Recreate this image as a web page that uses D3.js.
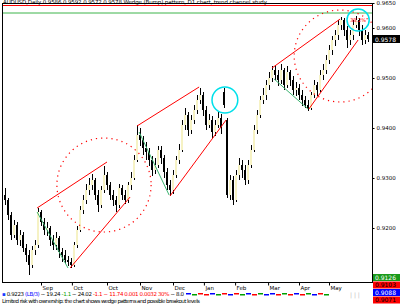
<!DOCTYPE html>
<html>
<head>
<meta charset="utf-8">
<script src="https://cdn.jsdelivr.net/npm/d3@7"></script>
<style>
  body { margin: 0; background: #fff; }
  svg { display: block; font-family: "DejaVu Sans", sans-serif; }
</style>
</head>
<body>
<div id="chart"></div>
<script>
// daily candles
const open = [
  0.9266, 0.9256, 0.9226, 0.9186, 0.9206, 0.9176, 0.9186, 0.9160, 0.9146, 0.9126,
  0.9156, 0.9166, 0.9232, 0.9212, 0.9196, 0.9200, 0.9176, 0.9166, 0.9180, 0.9152,
  0.9146, 0.9136, 0.9132, 0.9126, 0.9166, 0.9196, 0.9236, 0.9256, 0.9276, 0.9286,
  0.9296, 0.9266, 0.9246, 0.9276, 0.9306, 0.9286, 0.9266, 0.9256, 0.9246, 0.9280,
  0.9266, 0.9256, 0.9286, 0.9300, 0.9336, 0.9386, 0.9376, 0.9360, 0.9352, 0.9336,
  0.9316, 0.9326, 0.9356, 0.9340, 0.9312, 0.9286, 0.9276, 0.9306, 0.9336, 0.9356,
  0.9406, 0.9426, 0.9396, 0.9416, 0.9436, 0.9456, 0.9466, 0.9436, 0.9406, 0.9416,
  0.9392, 0.9406, 0.9420, 0.9472, 0.9416, 0.9266, 0.9296, 0.9256, 0.9306, 0.9326,
  0.9316, 0.9296, 0.9326, 0.9356, 0.9396, 0.9426, 0.9456, 0.9466, 0.9486, 0.9500,
  0.9516, 0.9506, 0.9496, 0.9516, 0.9486, 0.9512, 0.9496, 0.9476, 0.9480, 0.9466,
  0.9456, 0.9446, 0.9440, 0.9466, 0.9486, 0.9476, 0.9506, 0.9516, 0.9536, 0.9556,
  0.9576, 0.9586, 0.9606, 0.9616, 0.9596, 0.9576, 0.9586, 0.9606, 0.9616, 0.9596,
  0.9576, 0.9586
];
const high = [
  0.9280, 0.9260, 0.9232, 0.9216, 0.9212, 0.9196, 0.9192, 0.9168, 0.9156, 0.9164,
  0.9176, 0.9240, 0.9236, 0.9220, 0.9212, 0.9204, 0.9186, 0.9192, 0.9184, 0.9160,
  0.9156, 0.9144, 0.9140, 0.9172, 0.9204, 0.9244, 0.9266, 0.9288, 0.9300, 0.9308,
  0.9300, 0.9276, 0.9284, 0.9324, 0.9312, 0.9292, 0.9276, 0.9264, 0.9288, 0.9286,
  0.9276, 0.9292, 0.9312, 0.9346, 0.9406, 0.9400, 0.9384, 0.9372, 0.9360, 0.9344,
  0.9340, 0.9364, 0.9364, 0.9346, 0.9320, 0.9296, 0.9316, 0.9344, 0.9368, 0.9416,
  0.9440, 0.9432, 0.9426, 0.9446, 0.9466, 0.9480, 0.9472, 0.9444, 0.9428, 0.9424,
  0.9416, 0.9432, 0.9428, 0.9480, 0.9420, 0.9306, 0.9304, 0.9316, 0.9340, 0.9336,
  0.9326, 0.9336, 0.9366, 0.9406, 0.9436, 0.9464, 0.9480, 0.9496, 0.9512, 0.9524,
  0.9524, 0.9516, 0.9528, 0.9520, 0.9524, 0.9516, 0.9504, 0.9492, 0.9488, 0.9476,
  0.9464, 0.9456, 0.9472, 0.9496, 0.9492, 0.9516, 0.9528, 0.9546, 0.9566, 0.9584,
  0.9596, 0.9616, 0.9622, 0.9620, 0.9604, 0.9596, 0.9616, 0.9624, 0.9620, 0.9606,
  0.9596, 0.9592
];
const low = [
  0.9246, 0.9216, 0.9176, 0.9180, 0.9166, 0.9164, 0.9152, 0.9132, 0.9106, 0.9120,
  0.9146, 0.9160, 0.9204, 0.9186, 0.9184, 0.9164, 0.9156, 0.9156, 0.9140, 0.9132,
  0.9128, 0.9124, 0.9120, 0.9122, 0.9160, 0.9192, 0.9228, 0.9248, 0.9266, 0.9276,
  0.9256, 0.9232, 0.9240, 0.9270, 0.9276, 0.9256, 0.9244, 0.9232, 0.9240, 0.9256,
  0.9248, 0.9250, 0.9276, 0.9296, 0.9332, 0.9364, 0.9346, 0.9336, 0.9324, 0.9304,
  0.9308, 0.9320, 0.9328, 0.9300, 0.9276, 0.9264, 0.9268, 0.9300, 0.9328, 0.9352,
  0.9396, 0.9384, 0.9388, 0.9408, 0.9428, 0.9448, 0.9424, 0.9396, 0.9400, 0.9380,
  0.9384, 0.9400, 0.9388, 0.9440, 0.9260, 0.9256, 0.9246, 0.9252, 0.9296, 0.9300,
  0.9286, 0.9288, 0.9320, 0.9352, 0.9388, 0.9420, 0.9448, 0.9456, 0.9476, 0.9492,
  0.9496, 0.9484, 0.9488, 0.9476, 0.9480, 0.9484, 0.9466, 0.9464, 0.9456, 0.9444,
  0.9440, 0.9434, 0.9436, 0.9460, 0.9464, 0.9472, 0.9496, 0.9508, 0.9528, 0.9546,
  0.9564, 0.9576, 0.9596, 0.9584, 0.9560, 0.9566, 0.9576, 0.9600, 0.9584, 0.9566,
  0.9568, 0.9572
];
const close = [
  0.9256, 0.9226, 0.9186, 0.9206, 0.9176, 0.9186, 0.9160, 0.9146, 0.9126, 0.9156,
  0.9166, 0.9232, 0.9212, 0.9196, 0.9200, 0.9176, 0.9166, 0.9180, 0.9152, 0.9146,
  0.9136, 0.9132, 0.9126, 0.9166, 0.9196, 0.9236, 0.9256, 0.9276, 0.9286, 0.9296,
  0.9266, 0.9246, 0.9276, 0.9306, 0.9286, 0.9266, 0.9256, 0.9246, 0.9280, 0.9266,
  0.9256, 0.9286, 0.9300, 0.9336, 0.9386, 0.9376, 0.9360, 0.9352, 0.9336, 0.9316,
  0.9326, 0.9356, 0.9340, 0.9312, 0.9286, 0.9276, 0.9306, 0.9336, 0.9356, 0.9406,
  0.9426, 0.9396, 0.9416, 0.9436, 0.9456, 0.9466, 0.9436, 0.9406, 0.9416, 0.9392,
  0.9406, 0.9420, 0.9400, 0.9446, 0.9266, 0.9296, 0.9256, 0.9306, 0.9326, 0.9316,
  0.9296, 0.9326, 0.9356, 0.9396, 0.9426, 0.9456, 0.9466, 0.9486, 0.9500, 0.9516,
  0.9506, 0.9496, 0.9516, 0.9486, 0.9512, 0.9496, 0.9476, 0.9480, 0.9466, 0.9456,
  0.9446, 0.9440, 0.9466, 0.9486, 0.9476, 0.9506, 0.9516, 0.9536, 0.9556, 0.9576,
  0.9586, 0.9606, 0.9616, 0.9596, 0.9576, 0.9586, 0.9606, 0.9616, 0.9596, 0.9576,
  0.9586, 0.9578
];

// drawn objects: [bar1, price1, bar2, price2]
const redLines = [
  [10.7, 0.9240, 34, 0.9332], [21.7, 0.9120, 41.7, 0.9262],
  [44, 0.9404, 64.7, 0.9482], [55, 0.9264, 73.7, 0.9416],
  [89, 0.9520, 111.7, 0.9618], [101.3, 0.9438, 117.7, 0.9576]
];
const greenLines = [
  [10.7, 0.9232, 21, 0.9120],
  [44.7, 0.9392, 54.7, 0.9266],
  [89.7, 0.9498, 101, 0.9438]
];
// [bar, price, radius in bars, radius in price]
const dotCircles = [[33, 0.9286, 15.7, 0.0094], [111.7, 0.9544, 15.3, 0.0092]];
const cyanCircles = [[73.3, 0.9456, 4.3, 0.0026], [117.7, 0.9616, 3.7, 0.0022]];
const levelRed = 0.9645;
const levelGreen = 0.9630;

const priceTicks = [0.92, 0.93, 0.94, 0.95, 0.96, 0.965];
const timeTicks = [12, 22.3, 34, 45, 56, 66.3, 76.7, 87.7, 98, 108];
const timeLabels = ['Sep', 'Oct', 'Oct', 'Nov', 'Dec', 'Jan', 'Feb', 'Mar', 'Apr', 'May'];

const boxLabels = ['0.9126', '0.9103', '0.9088', '0.9071'];
const boxColors = ['#1a9a1a', '#ff0000', '#0000ff', '#ff0000'];
const boxText = ['#fff', '#000', '#fff', '#000'];

const W = 400, H = 304;
const plot = {left: 2, right: 372, top: 3, bottom: 282};

const x = d3.scaleLinear().domain([0, close.length - 1]).range([5, 368]);
const y = d3.scaleLinear().domain([0.9092, 0.9650]).range([plot.bottom, plot.top]);

const svg = d3.select('#chart').append('svg').attr('width', W).attr('height', H);

svg.append('defs').append('clipPath').attr('id', 'clip').append('rect')
    .attr('x', plot.left).attr('y', plot.top)
    .attr('width', plot.right - plot.left).attr('height', plot.bottom - plot.top);

const g = svg.append('g').attr('clip-path', 'url(#clip)');

// horizontal levels
g.append('line').attr('x1', plot.left).attr('x2', plot.right)
    .attr('y1', y(levelRed)).attr('y2', y(levelRed)).attr('stroke', '#ff0000');
g.append('line').attr('x1', plot.left).attr('x2', plot.right)
    .attr('y1', y(levelGreen)).attr('y2', y(levelGreen)).attr('stroke', '#3cb44b');

const bars = close.map((c, i) => ({i, o: open[i], h: high[i], l: low[i], c}));

g.selectAll('.wick').data(bars).join('rect').attr('class', 'wick')
    .attr('x', d => Math.round(x(d.i)))
    .attr('y', d => y(d.h))
    .attr('width', 1)
    .attr('height', d => y(d.l) - y(d.h))
    .attr('fill', '#000');

g.selectAll('.body').data(bars).join('rect').attr('class', 'body')
    .attr('x', d => Math.round(x(d.i)) - 1)
    .attr('y', d => y(Math.max(d.o, d.c)))
    .attr('width', 2)
    .attr('height', d => Math.max(1, Math.abs(y(d.o) - y(d.c))))
    .attr('fill', d => d.c < d.o ? '#000' : '#f6f2c4');

// dotted circles
g.selectAll('.dots').data(dotCircles).join('ellipse').attr('class', 'dots')
    .attr('cx', d => x(d[0])).attr('cy', d => y(d[1]))
    .attr('rx', d => x(d[0] + d[2]) - x(d[0]))
    .attr('ry', d => y(d[1]) - y(d[1] + d[3]))
    .attr('fill', 'none').attr('stroke', '#ff0000')
    .attr('stroke-width', 1.2).attr('stroke-dasharray', '1.2,4');

g.selectAll('.green').data(greenLines).join('line').attr('class', 'green')
    .attr('x1', d => x(d[0])).attr('y1', d => y(d[1]))
    .attr('x2', d => x(d[2])).attr('y2', d => y(d[3]))
    .attr('stroke', '#3cb371').attr('stroke-width', 1);

g.selectAll('.red').data(redLines).join('line').attr('class', 'red')
    .attr('x1', d => x(d[0])).attr('y1', d => y(d[1]))
    .attr('x2', d => x(d[2])).attr('y2', d => y(d[3]))
    .attr('stroke', '#ff0000').attr('stroke-width', 1);

g.selectAll('.cyan').data(cyanCircles).join('ellipse').attr('class', 'cyan')
    .attr('cx', d => x(d[0])).attr('cy', d => y(d[1]))
    .attr('rx', d => x(d[0] + d[2]) - x(d[0]))
    .attr('ry', d => y(d[1]) - y(d[1] + d[3]))
    .attr('fill', 'none').attr('stroke', '#00e0ea').attr('stroke-width', 1.5);

g.append('text')
    .attr('x', x(cyanCircles[1][0])).attr('y', y(cyanCircles[1][1]) + 2)
    .attr('text-anchor', 'middle').attr('font-size', 5).attr('fill', '#ff0000')
    .text('38.2%');

// frame
svg.append('rect')
    .attr('x', plot.left + 0.5).attr('y', plot.top + 0.5)
    .attr('width', plot.right - plot.left).attr('height', plot.bottom - plot.top)
    .attr('fill', 'none').attr('stroke', '#000');

// right price axis
svg.append('g')
    .attr('transform', `translate(${plot.right + 0.5},0)`)
    .call(d3.axisRight(y).tickValues(priceTicks).tickSize(2).tickPadding(2)
        .tickFormat(d3.format('.4f')))
    .attr('font-size', 5.5).attr('font-family', '"DejaVu Sans", sans-serif')
    .call(a => a.select('.domain').remove());

// current price
const last = close[close.length - 1];
svg.append('rect').attr('x', plot.right + 1).attr('y', y(last) - 4)
    .attr('width', W - plot.right - 1).attr('height', 8).attr('fill', '#000');
svg.append('text').attr('x', plot.right + 3).attr('y', y(last) + 2.5)
    .attr('font-size', 6).attr('fill', '#fff').text(d3.format('.4f')(last));

// time axis
svg.append('g')
    .attr('transform', `translate(0,${plot.bottom + 0.5})`)
    .call(d3.axisBottom(x).tickValues(timeTicks).tickSize(3).tickPadding(1)
        .tickFormat((d, i) => timeLabels[i]))
    .attr('font-size', 5.5).attr('font-family', '"DejaVu Sans", sans-serif')
    .call(a => a.select('.domain').remove())
    .call(a => a.selectAll('text').attr('text-anchor', 'start').attr('dx', 1));

// level boxes at the bottom right
boxLabels.forEach((t, k) => {
  const top = 274 + k * 7.5;
  svg.append('rect').attr('x', plot.right + 1).attr('y', top)
      .attr('width', W - plot.right - 1).attr('height', 7).attr('fill', boxColors[k]);
  svg.append('text').attr('x', plot.right + 3).attr('y', top + 5.8)
      .attr('font-size', 6).attr('fill', boxText[k]).text(t);
});

// header
svg.append('text').attr('x', 3).attr('y', 4)
    .attr('font-size', 5.5).attr('textLength', 264)
    .text('AUDUSD,Daily  0.9586 0.9592 0.9572 0.9578   Wedge (Bump) pattern, D1 chart, trend channel study');

// indicator row
const rowParts = [
  ['\u25AA ', '#1a3cff'], ['0.9223 ', '#000'], ['(LB/3)', '#0000ff'], [' ~ 19.24 ', '#000'],
  ['-1.1', '#00a000'], [' ~ 24.02 ', '#000'], ['-1.1 ~ 11.74 ', '#ff0000'],
  ['0.001 0.0032 30%', '#ff0000'], [' ~ 8.0', '#000']
];
const row = svg.append('text').attr('x', 2).attr('y', 296).attr('font-size', 5.5)
    .attr('textLength', 182);
rowParts.forEach(p => row.append('tspan').attr('fill', p[1]).text(p[0]));

const swatches = ['#0000ff', '#00a000', '#ff0000', '#ff0000', '#0000ff', '#00a000', '#ff0000', '#0000ff',
  '#ff0000', '#00a000', '#0000ff', '#ff0000', '#00a000', '#0000ff', '#0000ff', '#ff0000',
  '#00a000', '#ff0000', '#0000ff', '#ff0000', '#00a000', '#0000ff', '#ff0000', '#00a000'];
svg.selectAll('.sw').data(swatches).join('rect').attr('class', 'sw')
    .attr('x', (d, i) => 186 + i * 6).attr('y', (d, i) => 293 + (i % 2))
    .attr('width', 5).attr('height', 1.5).attr('fill', d => d);
svg.append('text').attr('x', 350).attr('y', 297).attr('font-size', 6)
    .attr('fill', '#bbb').text('|  |  |');

svg.append('text').attr('x', 2).attr('y', 303).attr('font-size', 5.5)
    .attr('textLength', 198)
    .text('Limited risk with ownership: the chart shows wedge patterns and possible breakout levels');
</script>
</body>
</html>
